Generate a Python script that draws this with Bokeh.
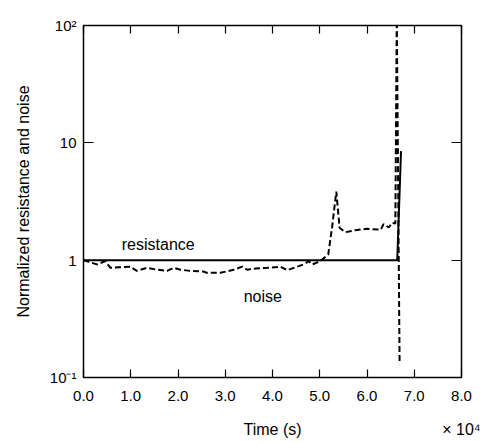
from bokeh.plotting import figure
from bokeh.models import Label, LinearAxis, LogAxis, FixedTicker
from bokeh.embed import file_html
from bokeh.resources import INLINE

# ---- data (time in units of 10^4 s) ----
time_res = [0.0, 6.64, 6.72]
resistance = [1.0, 1.0, 8.5]

time_noise = [0.0, 0.28, 0.46, 0.57, 0.75, 0.99, 1.13, 1.34, 1.55, 1.77, 1.91,
              2.05, 2.26, 2.54, 2.61, 2.9, 3.18, 3.36, 3.46, 3.65, 3.89, 4.17,
              4.31, 4.45, 4.66, 4.77, 4.84, 5.01, 5.18, 5.26, 5.35, 5.42, 5.54,
              5.75, 6.0, 6.29, 6.35, 6.46, 6.53, 6.6, 6.63, 6.69]
noise = [1.0, 0.92, 0.98, 0.86, 0.87, 0.88, 0.81, 0.86, 0.83, 0.81, 0.86,
         0.83, 0.81, 0.80, 0.78, 0.78, 0.83, 0.88, 0.83, 0.85, 0.86, 0.88,
         0.82, 0.86, 0.92, 0.98, 0.92, 0.98, 1.12, 1.89, 3.84, 1.89, 1.73,
         1.80, 1.85, 1.82, 2.03, 1.90, 2.08, 2.05, 120.0, 0.13]

x_ticks = [0, 1, 2, 3, 4, 5, 6, 7, 8]
x_tick_labels = ["0.0", "1.0", "2.0", "3.0", "4.0", "5.0", "6.0", "7.0", "8.0"]
y_ticks = [0.1, 1, 10, 100]
y_tick_labels = ["10\u207b\u00b9", "1", "10", "10\u00b2"]
# second row under the axis: axis title and the x multiplier
x_title_pos = [4, 8]
x_title_text = ["Time (s)", "\u00d7 10\u2074"]

FONT = "Liberation Sans"

p = figure(width=488, height=442, x_range=(0, 8), y_range=(0.1, 100),
           y_axis_type="log", output_backend="svg", toolbar_location=None,
           min_border_left=83, min_border_right=27, min_border_top=25,
           min_border_bottom=65)
p.background_fill_color = "white"
p.border_fill_color = "white"
p.outline_line_color = "black"
p.outline_line_width = 1.5
p.xgrid.grid_line_color = None
p.ygrid.grid_line_color = None

# bottom axis (ticks + numbers)
xa = p.xaxis[0]
xa.ticker = FixedTicker(ticks=x_ticks)
xa.major_label_overrides = {t: l for t, l in zip(x_ticks, x_tick_labels)}
xa.major_tick_in = 8
xa.major_tick_out = 0
xa.minor_tick_line_color = None
xa.axis_line_color = None
xa.major_tick_line_color = "black"
xa.major_tick_line_width = 1.2
xa.major_label_standoff = 13
xa.major_label_text_font = FONT
xa.major_label_text_font_size = "15px"
xa.major_label_text_color = "black"

# second bottom row: "Time (s)" and "x 10^4"
xb = LinearAxis(ticker=FixedTicker(ticks=x_title_pos),
                major_label_overrides={t: l for t, l in zip(x_title_pos, x_title_text)},
                major_tick_in=0, major_tick_out=0, major_tick_line_color=None,
                minor_tick_line_color=None, axis_line_color=None,
                major_label_standoff=17, major_label_text_font=FONT,
                major_label_text_font_size="16px", major_label_text_color="black")
p.add_layout(xb, "below")

# left axis
ya = p.yaxis[0]
ya.ticker = FixedTicker(ticks=y_ticks)
ya.major_label_overrides = {t: l for t, l in zip(y_ticks, y_tick_labels)}
ya.major_tick_in = 10
ya.major_tick_out = 0
ya.minor_tick_line_color = None
ya.axis_line_color = None
ya.major_tick_line_color = "black"
ya.major_tick_line_width = 1.2
ya.major_label_standoff = 7
ya.major_label_text_font = FONT
ya.major_label_text_font_size = "15px"
ya.major_label_text_color = "black"
ya.axis_label = "Normalized resistance and noise"
ya.axis_label_text_font = FONT
ya.axis_label_text_font_size = "16px"
ya.axis_label_text_font_style = "normal"
ya.axis_label_text_color = "black"
ya.axis_label_standoff = 15

# top and right tick-only axes
top = LinearAxis(ticker=FixedTicker(ticks=x_ticks), major_tick_in=8,
                 major_tick_out=0, minor_tick_line_color=None,
                 axis_line_color=None, major_label_text_font_size="0px",
                 major_label_text_color=None, major_label_standoff=0,
                 major_tick_line_width=1.2)
p.add_layout(top, "above")
right = LogAxis(ticker=FixedTicker(ticks=[1, 10]), major_tick_in=10,
                major_tick_out=0, minor_tick_line_color=None,
                axis_line_color=None, major_label_text_font_size="0px",
                major_label_text_color=None, major_label_standoff=0,
                major_tick_line_width=1.2)
p.add_layout(right, "right")

# curves
p.line(time_res, resistance, line_color="black", line_width=2)
p.line(time_noise, noise, line_color="black", line_width=2, line_dash="6 3")

# annotations
p.add_layout(Label(x=0.81, y=1.37, text="resistance", text_align="left",
                   text_baseline="alphabetic", text_font=FONT,
                   text_font_size="16px", text_color="black"))
p.add_layout(Label(x=3.39, y=0.49, text="noise", text_align="left",
                   text_baseline="alphabetic", text_font=FONT,
                   text_font_size="16px", text_color="black"))

open("out.html", "w").write(file_html(p, INLINE))
